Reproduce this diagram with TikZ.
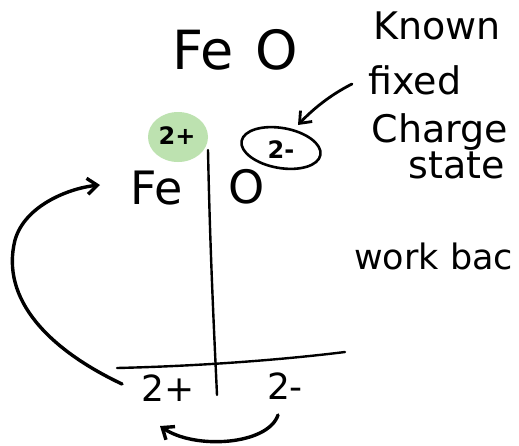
\documentclass[tikz,border=0pt]{standalone}
\usepackage{fontspec}
\setmainfont{DejaVu Sans}
\usetikzlibrary{arrows.meta,shapes.geometric}
\definecolor{bubble}{RGB}{189,226,176}
\tikzset{
  ink/.style={line width=3.4pt, line cap=round, line join=round},
  thin ink/.style={line width=2.4pt, line cap=round},
  hand/.style={inner sep=0pt, font=\fontsize{38}{38}\selectfont},
  big/.style={inner sep=0pt, font=\fontsize{54}{54}\selectfont},
  mid/.style={inner sep=0pt, font=\fontsize{46}{46}\selectfont},
  small/.style={inner sep=0pt, font=\bfseries\fontsize{24}{24}\selectfont},
  tip/.style={-{Straight Barb[length=10pt,width=16pt]}}
}
\begin{document}
\begin{tikzpicture}[x=1pt,y=-1pt]
\useasboundingbox (0,0) rectangle (519,445);
\fill[white] (0,0) rectangle (519,445);
% title
\node[big] (fe0) at (203,50) {Fe};
\node[big] (o0) at (277,50) {O};
% annotations
\node[hand] (known) at (437,26) {Known};
\node[hand] (fixed) at (415,80) {fixed};
\node[hand] (charge) at (440,132) {Charge};
\node[hand] (state) at (457,165) {state};
\node[hand, anchor=west, font=\fontsize{35}{35}\selectfont] (work) at (354,256) {work bac};
% green bubble
\fill[bubble] (178,137) ellipse (30pt and 25pt);
\node[small] (plus) at (177,136) {2+};
% ellipse around 2-
\node[small] (minus) at (281,150) {2-};
\draw[ink, line width=2.6pt, rotate around={-10:(281,148)}] (281,148) ellipse (40pt and 20pt);
\coordinate (ellTop) at (298,125);
\coordinate (fixStart) at (352,84);
\draw[ink, line width=2.8pt, tip] (fixStart) .. controls (330,95) and (312,110) .. (ellTop);
% Fe O
\node[mid] (fe) at (157,188) {Fe};
\node[mid] (o) at (247,187) {O};
% cross lines
\coordinate (vTop) at (208,150);
\coordinate (vBot) at (217,395);
\coordinate (hL) at (117,368);
\coordinate (hR) at (345,352);
\draw[thin ink] (vTop) .. controls (210,250) and (214,330) .. (vBot);
\draw[thin ink] (hL) .. controls (200,366) and (280,360) .. (hR);
% bottom charges
\node[mid, font=\fontsize{36}{36}\selectfont] (p2) at (168,388) {2+};
\node[mid, font=\fontsize{36}{36}\selectfont] (m2) at (285,386) {2-};
% left arrow
\coordinate (lStart) at (122,384);
\coordinate (lEnd) at (100,185);
\draw[ink, tip] (lStart) .. controls (50,350) and (0,300) .. (15,240) .. controls (25,205) and (70,188) .. (lEnd);
% bottom arrow
\coordinate (bStart) at (278,415);
\coordinate (bEnd) at (160,426);
\draw[ink, tip] (bStart) .. controls (268,445) and (195,450) .. (bEnd);
\end{tikzpicture}
\end{document}
